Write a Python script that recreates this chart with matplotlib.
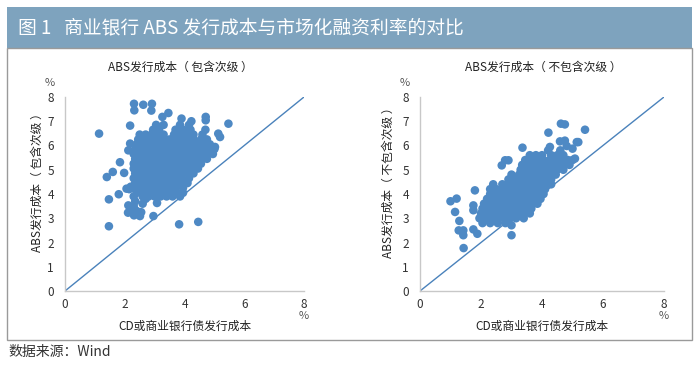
import matplotlib
matplotlib.use('Agg')
import matplotlib.pyplot as plt
from matplotlib.patches import Rectangle

plt.rcParams['font.family'] = ['Noto Sans CJK SC', 'DejaVu Sans']

# ---- data ----
# left panel: ABS cost incl. subordinated tranches vs CD / bank bond cost
left_rows = {
    3.9: [2.6, 2.8, 3.0, 3.2, 3.4, 3.6, 3.85],
    4.05: [2.4, 2.55, 2.75, 2.95, 3.15, 3.35, 3.55, 3.75, 3.95],
    4.25: [2.3, 2.5, 2.7, 2.9, 3.1, 3.3, 3.5, 3.7, 3.95],
    4.45: [2.35, 2.55, 2.75, 2.95, 3.15, 3.35, 3.55, 3.75, 3.95, 4.1],
    4.65: [2.3, 2.5, 2.7, 2.9, 3.1, 3.3, 3.5, 3.7, 3.9, 4.15],
    4.85: [2.35, 2.55, 2.75, 2.95, 3.15, 3.35, 3.55, 3.75, 3.95, 4.15, 4.3],
    5.05: [2.3, 2.5, 2.7, 2.9, 3.1, 3.3, 3.5, 3.7, 3.9, 4.1, 4.3, 4.45],
    5.25: [2.3, 2.5, 2.7, 2.9, 3.1, 3.3, 3.5, 3.7, 3.9, 4.1, 4.3, 4.55],
    5.45: [2.35, 2.55, 2.75, 2.95, 3.15, 3.35, 3.55, 3.75, 3.95, 4.15, 4.35, 4.55, 4.75],
    5.65: [2.3, 2.5, 2.7, 2.9, 3.1, 3.3, 3.5, 3.7, 3.9, 4.1, 4.3, 4.5, 4.7, 4.95],
    5.85: [2.35, 2.55, 2.75, 2.95, 3.15, 3.35, 3.55, 3.75, 3.95, 4.15, 4.35, 4.55, 4.75, 5.0],
    6.05: [2.4, 2.6, 2.8, 3.0, 3.2, 3.4, 3.6, 3.8, 4.0, 4.2, 4.4, 4.6, 4.85],
    6.25: [2.45, 2.65, 2.85, 3.05, 3.25, 3.5, 3.7, 3.9, 4.1, 4.3, 4.55, 4.75],
    6.45: [2.5, 2.7, 2.9, 3.1, 3.3, 3.65, 3.85, 4.05, 4.3, 4.6],
    6.65: [2.95, 3.15, 3.7, 3.95, 4.2, 4.7],
    6.85: [3.05, 3.3, 3.85, 4.15],
}
left_out_x = [1.14, 2.31, 2.62, 2.91, 2.32, 2.89, 3.46, 2.18, 1.40, 1.60, 1.84, 1.98,
              1.47, 1.80, 1.47, 2.12, 2.11, 2.31, 2.51, 2.96, 3.08, 3.82, 4.46, 5.47,
              4.71, 4.71, 3.90, 4.23, 3.26, 5.13, 5.19, 5.02, 4.91, 2.18, 2.12, 2.06,
              2.2, 2.15, 2.3, 2.35, 2.3, 2.2, 2.4, 2.45, 2.55, 2.6, 2.7]
left_out_y = [6.49, 7.72, 7.68, 7.72, 7.45, 7.44, 7.34, 6.82, 4.70, 4.91, 5.31, 4.87,
              3.78, 3.99, 2.67, 3.53, 3.23, 3.12, 3.09, 3.09, 3.63, 2.75, 2.85, 6.90,
              7.18, 7.04, 7.11, 7.00, 7.18, 6.49, 6.35, 5.94, 5.73, 6.08, 5.80, 4.22,
              4.3, 4.2, 3.9, 3.7, 3.5, 3.4, 3.3, 3.2, 3.25, 3.6, 3.8]

# right panel: ABS cost excl. subordinated tranches
right_rows = {
    2.8: [2.05, 2.3, 2.55, 2.8],
    3.0: [1.95, 2.15, 2.35, 2.55, 2.75, 2.95, 3.15, 3.4],
    3.2: [2.0, 2.2, 2.4, 2.6, 2.8, 3.0, 3.2, 3.4, 3.6],
    3.4: [2.05, 2.25, 2.45, 2.65, 2.85, 3.05, 3.25, 3.45, 3.65],
    3.6: [2.1, 2.3, 2.5, 2.7, 2.9, 3.1, 3.3, 3.5, 3.7, 3.85],
    3.8: [2.2, 2.4, 2.6, 2.8, 3.0, 3.2, 3.4, 3.6, 3.8, 3.95],
    4.0: [2.3, 2.5, 2.7, 2.9, 3.1, 3.3, 3.5, 3.7, 3.9, 4.05],
    4.2: [2.3, 2.5, 2.7, 2.9, 3.1, 3.3, 3.5, 3.7, 3.9, 4.1],
    4.4: [2.4, 2.7, 2.95, 3.15, 3.35, 3.55, 3.75, 3.95, 4.15, 4.3],
    4.6: [2.9, 3.1, 3.3, 3.5, 3.7, 3.9, 4.1, 4.3],
    4.8: [3.0, 3.25, 3.45, 3.65, 3.85, 4.05, 4.25, 4.45],
    5.0: [3.3, 3.5, 3.7, 3.9, 4.1, 4.3, 4.5, 4.7],
    5.2: [3.35, 3.55, 3.75, 3.95, 4.15, 4.35, 4.55, 4.75, 4.9],
    5.4: [3.45, 3.65, 3.85, 4.05, 4.25, 4.45, 4.65, 4.85, 5.0],
    5.6: [3.6, 3.8, 4.0, 4.3, 4.5, 4.7],
    5.8: [4.2, 4.6],
}
right_out_x = [1.0, 1.2, 1.15, 1.29, 1.27, 1.42, 1.42, 1.43, 1.75, 1.88, 1.75, 1.8,
               1.75, 3.0, 3.0, 3.36, 2.79, 2.9, 2.68, 4.21, 4.62, 4.75, 5.41, 4.59,
               4.81, 5.14, 5.19, 5.0, 5.08, 4.26, 4.75]
right_out_y = [3.70, 3.81, 3.26, 2.89, 2.5, 2.5, 2.3, 1.77, 2.54, 2.36, 3.53, 4.15,
               3.33, 2.71, 2.3, 5.91, 5.39, 5.39, 5.18, 6.53, 6.9, 6.87, 6.65, 6.17,
               5.98, 6.14, 6.14, 5.87, 5.46, 5.94, 6.2]

ticks = [0, 2, 4, 6, 8]
yticks = [0, 1, 2, 3, 4, 5, 6, 7, 8]

W, H = 700, 366
fig = plt.figure(figsize=(7, 3.66), dpi=100)


def px(x, y):
    return x / W, 1 - y / H


# banner and frame
fig.patches.append(Rectangle(px(7, 48), 685 / W, 41 / H, transform=fig.transFigure,
                             facecolor='#7ea3be', edgecolor='none'))
fig.patches.append(Rectangle(px(7, 340), 685 / W, 292 / H, transform=fig.transFigure,
                             facecolor='none', edgecolor='#9a9a9a', lw=1))
fig.text(*px(18, 28), '图 1   商业银行 ABS 发行成本与市场化融资利率的对比',
         color='white', fontsize=13.5, va='center', ha='left')
fig.text(*px(8, 352), '数据来源：Wind', color='#333333', fontsize=10,
         va='center', ha='left')

panels = [
    (65, 239, left_rows, left_out_x, left_out_y, 'ABS发行成本（ 包含次级 ）', 37, 180),
    (420, 244, right_rows, right_out_x, right_out_y, 'ABS发行成本（ 不包含次级 ）', 388, 543),
]

blue = '#4e89c4'
for x0, w, rows, ox, oy, title, ylab_x, title_x in panels:
    ax = fig.add_axes([x0 / W, 1 - 291 / H, w / W, 194 / H])
    xs, ys = [], []
    for yv, xl in rows.items():
        xs += xl
        ys += [yv] * len(xl)
    xs += ox
    ys += oy
    ax.scatter(xs, ys, s=38, color=blue, edgecolors='none', zorder=3)
    ax.plot([0, 8], [0, 8], color='#4a82bb', lw=1, zorder=2)
    ax.set_xlim(0, 8)
    ax.set_ylim(0, 8)
    ax.set_xticks(ticks)
    ax.set_yticks(yticks)
    ax.tick_params(length=0, labelsize=8.5, colors='#333333')
    ax.tick_params(axis='y', pad=8)
    ax.tick_params(axis='x', pad=5)
    for s in ['top', 'right']:
        ax.spines[s].set_visible(False)
    for s in ['left', 'bottom']:
        ax.spines[s].set_color('#c8c8c8')
        ax.spines[s].set_linewidth(1)
    fig.text(*px(title_x, 67), title, fontsize=8.5, ha='center', va='center', color='#222222')
    fig.text(*px(x0 + w / 2, 326), 'CD或商业银行债发行成本', fontsize=8.5,
             ha='center', va='center', color='#222222')
    fig.text(*px(ylab_x, 180), title, fontsize=8.5, rotation=90,
             ha='center', va='center', color='#222222')
    fig.text(*px(x0 - 15, 83), '%', fontsize=8, ha='center', va='center', color='#555555')
    fig.text(*px(x0 + w, 316), '%', fontsize=8, ha='center', va='center', color='#555555')

fig.savefig('out.png', dpi=100)
